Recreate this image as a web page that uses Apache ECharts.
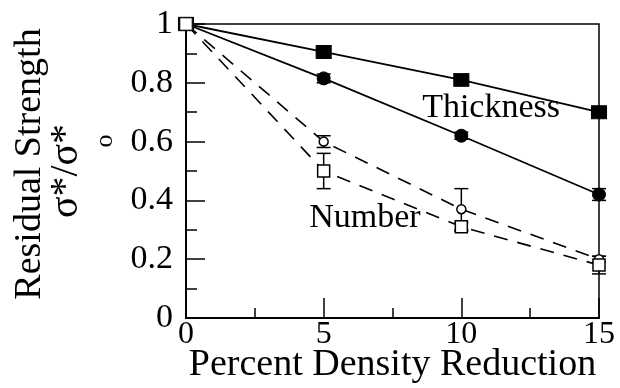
<!DOCTYPE html>
<html><head><meta charset="utf-8">
<script src="https://cdn.jsdelivr.net/npm/echarts@6/dist/echarts.min.js"></script>
<style>html,body{margin:0;padding:0;background:#fff}#c{width:620px;height:388px}</style>
</head><body><div id="c"></div>
<script>
const xValues = [0, 5, 10, 15];
const thickSquare = [1, 0.905, 0.81, 0.70];
const thickSquareErr = [0, 0.012, 0.01, 0.012];
const thickCircle = [1, 0.815, 0.62, 0.42];
const thickCircleErr = [0, 0.015, 0.012, 0.02];
const numCircle = [1, 0.60, 0.37, 0.20];
const numCircleErr = [0, 0.02, 0.07, 0.01];
const numSquare = [1, 0.50, 0.31, 0.18];
const numSquareErr = [0, 0.06, 0.015, 0.03];
const yTicks = [0, 0.2, 0.4, 0.6, 0.8, 1];
const xTicks = [0, 5, 10, 15];
const annotations = [{text: 'Thickness', x: 11.08, y: 0.715}, {text: 'Number', x: 6.5, y: 0.34}];

const FONT = 'Liberation Serif';
const chart = echarts.init(document.getElementById('c'), null, {renderer: 'canvas'});

function pairs(vals) { return xValues.map((x, i) => [x, vals[i]]); }
function errData(vals, errs) { return xValues.map((x, i) => [x, vals[i] - errs[i], vals[i] + errs[i]]).filter((d, i) => errs[i] > 0); }
function errSeries(vals, errs) {
  return {
    type: 'custom', z: 1, silent: true,
    renderItem: function (params, api) {
      const x = api.value(0);
      const lo = api.coord([x, api.value(1)]);
      const hi = api.coord([x, api.value(2)]);
      const w = 7;
      const st = {stroke: '#000', lineWidth: 1.5};
      return {type: 'group', children: [
        {type: 'line', shape: {x1: lo[0], y1: lo[1], x2: hi[0], y2: hi[1]}, style: st},
        {type: 'line', shape: {x1: lo[0] - w, y1: lo[1], x2: lo[0] + w, y2: lo[1]}, style: st},
        {type: 'line', shape: {x1: hi[0] - w, y1: hi[1], x2: hi[0] + w, y2: hi[1]}, style: st}
      ]};
    },
    encode: {x: 0, y: [1, 2]},
    data: errData(vals, errs)
  };
}

const option = {
  animation: false,
  grid: {left: 186, right: 21, top: 24, bottom: 70, show: true, borderColor: '#000', borderWidth: 1.5,
    containLabel: false, outerBoundsMode: 'none'},
  xAxis: {
    type: 'value', min: 0, max: 15, interval: 5,
    name: 'Percent Density Reduction', nameLocation: 'middle', nameGap: 28, nameMoveOverlap: false,
    nameTextStyle: {fontFamily: FONT, fontSize: 38, color: '#000'},
    axisLine: {show: true, lineStyle: {color: '#000', width: 2}},
    axisTick: {show: true, inside: true, length: 20, lineStyle: {color: '#000', width: 1.5}},
    minorTick: {show: true, splitNumber: 2, length: 10, lineStyle: {color: '#000', width: 1.5}},
    splitLine: {show: false},
    axisLabel: {fontFamily: FONT, fontSize: 32, color: '#000', margin: 1,
      formatter: v => xTicks.includes(v) ? String(v) : ''}
  },
  yAxis: {
    type: 'value', min: 0, max: 1, interval: 0.2,
    name: '{a|Residual Strength}\n{b|σ*/σ*}\n{c|o}', nameLocation: 'middle', nameGap: 66, nameRotate: 90,
    nameMoveOverlap: false,
    nameTextStyle: {fontFamily: FONT, color: '#000', align: 'center',
      rich: {a: {fontFamily: FONT, fontSize: 38, lineHeight: 24, color: '#000', padding: [0, 0, 0, 14]},
             b: {fontFamily: FONT, fontSize: 40, lineHeight: 48, color: '#000'},
             c: {fontFamily: FONT, fontSize: 26, lineHeight: 30, color: '#000', padding: [0, 0, 0, 60]}}},
    axisLine: {show: true, lineStyle: {color: '#000', width: 2}},
    axisTick: {show: true, inside: true, length: 19, lineStyle: {color: '#000', width: 1.5}},
    minorTick: {show: true, splitNumber: 2, length: 11, lineStyle: {color: '#000', width: 1.5}},
    splitLine: {show: false},
    axisLabel: {fontFamily: FONT, fontSize: 34, color: '#000', margin: 13,
      formatter: v => { const t = yTicks.find(t => Math.abs(t - v) < 1e-9); return t === undefined ? '' : (t === 0 || t === 1 ? String(t) : t.toFixed(1)); }}
  },
  series: [
    errSeries(thickSquare, thickSquareErr),
    errSeries(thickCircle, thickCircleErr),
    errSeries(numCircle, numCircleErr),
    errSeries(numSquare, numSquareErr),
    {type: 'line', data: pairs(numCircle), symbol: 'circle', symbolSize: 9,
      lineStyle: {color: '#000', width: 1.6, type: [14, 10]},
      itemStyle: {color: '#fff', borderColor: '#000', borderWidth: 1.5}, z: 3},
    {type: 'line', data: pairs(numSquare), symbol: 'rect', symbolSize: 12,
      lineStyle: {color: '#000', width: 1.6, type: [14, 10]},
      itemStyle: {color: '#fff', borderColor: '#000', borderWidth: 1.5}, z: 4},
    {type: 'line', data: pairs(thickSquare), symbol: 'rect', symbolSize: [15, 13],
      lineStyle: {color: '#000', width: 1.8},
      itemStyle: {color: '#000', borderColor: '#000'}, z: 3},
    {type: 'line', data: pairs(thickCircle), symbol: 'circle', symbolSize: 13,
      lineStyle: {color: '#000', width: 1.8},
      itemStyle: {color: '#000', borderColor: '#000'}, z: 3},
    {type: 'scatter', data: [[xValues[0], numSquare[0]]], symbol: 'rect', symbolSize: 13,
      itemStyle: {color: '#fff', borderColor: '#000', borderWidth: 1.5}, z: 10}
  ]
};
chart.setOption(option);
const g = annotations.map(a => {
  const p = chart.convertToPixel({gridIndex: 0}, [a.x, a.y]);
  return {type: 'text', x: p[0], y: p[1], z: 20,
    style: {text: a.text, fontFamily: FONT, fontSize: 34, fill: '#000', align: 'center', verticalAlign: 'middle'}};
});
chart.setOption({graphic: g});
</script></body></html>
